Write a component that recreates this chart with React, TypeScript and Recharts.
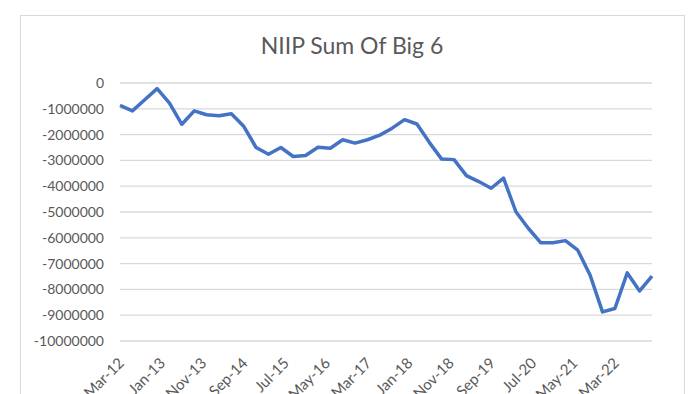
import React from 'react';
import { LineChart, Line, XAxis, YAxis, CartesianGrid } from 'recharts';

// quarterly observations, Mar-12 .. Dec-22
const quarters = [
  'Mar-12', 'Jun-12', 'Sep-12', 'Dec-12',
  'Mar-13', 'Jun-13', 'Sep-13', 'Dec-13',
  'Mar-14', 'Jun-14', 'Sep-14', 'Dec-14',
  'Mar-15', 'Jun-15', 'Sep-15', 'Dec-15',
  'Mar-16', 'Jun-16', 'Sep-16', 'Dec-16',
  'Mar-17', 'Jun-17', 'Sep-17', 'Dec-17',
  'Mar-18', 'Jun-18', 'Sep-18', 'Dec-18',
  'Mar-19', 'Jun-19', 'Sep-19', 'Dec-19',
  'Mar-20', 'Jun-20', 'Sep-20', 'Dec-20',
  'Mar-21', 'Jun-21', 'Sep-21', 'Dec-21',
  'Mar-22', 'Jun-22', 'Sep-22', 'Dec-22',
];

const niip = [
  -870000, -1080000, -650000, -220000,
  -780000, -1600000, -1080000, -1230000,
  -1270000, -1190000, -1680000, -2500000,
  -2760000, -2500000, -2850000, -2810000,
  -2490000, -2530000, -2200000, -2330000,
  -2200000, -2020000, -1750000, -1420000,
  -1590000, -2300000, -2950000, -2970000,
  -3590000, -3820000, -4080000, -3690000,
  -4990000, -5630000, -6190000, -6190000,
  -6110000, -6480000, -7450000, -8870000,
  -8740000, -7360000, -8060000, -7490000,
];

// date axis labels, one every 10 months starting Mar-12
const tickLabels = [
  'Mar-12', 'Jan-13', 'Nov-13', 'Sep-14', 'Jul-15', 'May-16', 'Mar-17',
  'Jan-18', 'Nov-18', 'Sep-19', 'Jul-20', 'May-21', 'Mar-22',
];

const yTicks = [0, -1000000, -2000000, -3000000, -4000000, -5000000, -6000000, -7000000, -8000000, -9000000, -10000000];

const data = quarters.map((q, i) => ({ label: q, month: i * 3, value: niip[i] }));
const xTicks = tickLabels.map((_, i) => i * 10);
const lastMonth = (quarters.length - 1) * 3;

const FONT = 'Lato, "Open Sans", sans-serif';
const TEXT = '#595959';

function XTick({ x, y, payload }: any) {
  const label = tickLabels[Math.round(payload.value / 10)];
  return (
    <g transform={`translate(${x + 5},${y + 23})`}>
      <text
        x={0}
        y={0}
        textAnchor="end"
        transform="rotate(-45)"
        fill={TEXT}
        fontSize={15}
        fontFamily={FONT}
      >
        {label}
      </text>
    </g>
  );
}

export default function App() {
  return (
    <div
      style={{
        position: 'absolute',
        left: 0,
        top: 0,
        width: 700,
        height: 394,
        overflow: 'hidden',
        background: '#fff',
      }}
    >
      <div
        style={{
          position: 'absolute',
          left: 20,
          top: 15,
          width: 665,
          height: 420,
          boxSizing: 'border-box',
          border: '1px solid #d9d9d9',
        }}
      />
      <div
        style={{
          position: 'absolute',
          left: 0,
          top: 30,
          width: 704,
          textAlign: 'center',
          fontFamily: FONT,
          fontSize: 23,
          color: TEXT,
          lineHeight: '30px',
        }}
      >
        NIIP Sum Of Big 6
      </div>
      <div style={{ position: 'absolute', left: 0, top: 0 }}>
        <LineChart
          width={700}
          height={420}
          data={data}
          margin={{ top: 83, right: 48, left: 20, bottom: 19 }}
        >
          <CartesianGrid vertical={false} stroke="#d9d9d9" strokeWidth={1.3} />
          <XAxis
            dataKey="month"
            type="number"
            domain={[0, lastMonth]}
            ticks={xTicks}
            interval={0}
            axisLine={false}
            tickLine={false}
            tickSize={0}
            tickMargin={0}
            height={60}
            tick={<XTick />}
          />
          <YAxis
            domain={[-10000000, 0]}
            ticks={yTicks}
            interval={0}
            width={100}
            axisLine={false}
            tickLine={false}
            tickSize={6}
            tickMargin={10}
            tickFormatter={(v: number) => String(v)}
            tick={{ fill: TEXT, fontSize: 14, fontFamily: FONT }}
          />
          <Line
            type="linear"
            dataKey="value"
            stroke="#4472C4"
            strokeWidth={3.5}
            strokeLinejoin="round"
            dot={false}
            isAnimationActive={false}
          />
        </LineChart>
      </div>
    </div>
  );
}
